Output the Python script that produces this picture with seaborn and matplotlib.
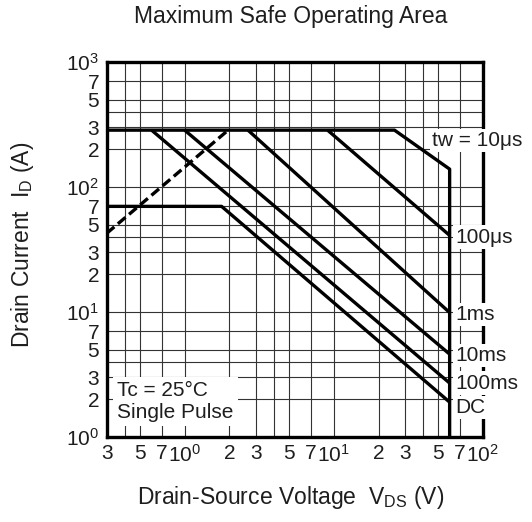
import matplotlib
matplotlib.use("Agg")
import matplotlib.pyplot as plt
import matplotlib.transforms as mtransforms
import seaborn as sns
import pandas as pd
from matplotlib.ticker import FixedLocator, FixedFormatter, NullFormatter

# ---------------- data ----------------
plateau = 285  # pulsed drain current limit line (A)

tw10_v = [0.3, 25.6, 60, 60]
tw10_i = [plateau, plateau, 139, 1]

us100_v = [9.1, 60]
us100_i = [plateau, 41]

ms1_v = [2.66, 60]
ms1_i = [plateau, 9.9]

ms10_v = [1.0, 60]
ms10_i = [plateau, 4.6]

ms100_v = [0.6, 60]
ms100_i = [plateau, 2.7]

dc_v = [0.3, 1.77, 60]
dc_i = [70, 70, 1.9]

rds_v = [0.3, 1.96]
rds_i = [42.6, plateau]

curve_labels = ["tw = 10μs", "100μs", "1ms", "10ms", "100ms", "DC"]
label_v = [45.4, 65.3, 65.3, 65.3, 65.3, 65.3]
label_i = [237, 39.8, 9.6, 4.5, 2.7, 1.71]

x_ticks = [0.3, 0.5, 0.7, 1, 2, 3, 5, 7, 10, 20, 30, 50, 70, 100]
x_ticklabels = ["3", "5", "7", "$10^0$", "2", "3", "5", "7",
                "$10^1$", "2", "3", "5", "7", "$10^2$"]
x_minor = [0.4, 4, 40]
y_ticks = [1, 2, 3, 5, 7, 10, 20, 30, 50, 70, 100, 200, 300, 500, 700, 1000]
y_ticklabels = ["$10^0$", "2", "3", "5", "7", "$10^1$", "2", "3", "5", "7",
                "$10^2$", "2", "3", "5", "7", "$10^3$"]
y_minor = [4, 40, 400]

# ---------------- style ----------------
sns.set_theme(style="white")
plt.rcParams["font.family"] = ["Liberation Sans", "DejaVu Sans"]
plt.rcParams["mathtext.fontset"] = "custom"
plt.rcParams["mathtext.rm"] = "Liberation Sans"
plt.rcParams["mathtext.it"] = "Liberation Sans:italic"
plt.rcParams["mathtext.default"] = "regular"

TXT = "#1e1e1e"
fig = plt.figure(figsize=(5.32, 5.22), dpi=100)
ax = fig.add_axes([106.7 / 532, 1 - 437 / 522, 376 / 532, 375 / 522])

LW = 2.4
series = [
    (tw10_v, tw10_i),
    (us100_v, us100_i),
    (ms1_v, ms1_i),
    (ms10_v, ms10_i),
    (ms100_v, ms100_i),
    (dc_v, dc_i),
]
for v, i in series:
    df = pd.DataFrame({"V": v, "I": i})
    sns.lineplot(data=df, x="V", y="I", sort=False, estimator=None, ax=ax,
                 color="black", lw=LW, zorder=6, solid_capstyle="butt")
df = pd.DataFrame({"V": rds_v, "I": rds_i})
sns.lineplot(data=df, x="V", y="I", sort=False, estimator=None, ax=ax,
             color="black", lw=LW, zorder=6, linestyle=(0, (3.0, 1.4)),
             dash_capstyle="butt")

ax.set_xscale("log")
ax.set_yscale("log")
ax.set_xlim(0.3, 100)
ax.set_ylim(1, 1000)

ax.xaxis.set_major_locator(FixedLocator(x_ticks))
ax.xaxis.set_major_formatter(FixedFormatter(x_ticklabels))
ax.xaxis.set_minor_locator(FixedLocator(x_minor))
ax.xaxis.set_minor_formatter(NullFormatter())
ax.yaxis.set_major_locator(FixedLocator(y_ticks))
ax.yaxis.set_major_formatter(FixedFormatter(y_ticklabels))
ax.yaxis.set_minor_locator(FixedLocator(y_minor))
ax.yaxis.set_minor_formatter(NullFormatter())

ax.set_axisbelow(True)
ax.grid(True, which="both", color="#333333", lw=0.8)
ax.tick_params(which="both", length=0, labelsize=15, labelcolor=TXT)
ax.tick_params(axis="x", pad=5)
ax.tick_params(axis="y", pad=5.5)

# shift the power-of-ten x labels so the "10" sits centred on its grid line
shift = mtransforms.ScaledTranslation(4.5 / 100, 0, fig.dpi_scale_trans)
for tick in ax.xaxis.get_major_ticks():
    lab = tick.label1
    if lab.get_text().startswith("$"):
        lab.set_transform(lab.get_transform() + shift)

for s in ax.spines.values():
    s.set_visible(True)
    s.set_color("black")
    s.set_linewidth(2.4)

ax.set_xlabel("Drain-Source Voltage  V$_\\mathrm{DS}$ (V)", fontsize=16.5,
              color=TXT, va="center")
ax.xaxis.set_label_coords((291 - 106.7) / 376, -(498 - 437) / 375)
ax.set_ylabel("Drain Current  I$_\\mathrm{D}$ (A)", fontsize=16.5,
              color=TXT, va="center")
ax.yaxis.set_label_coords((23 - 106.7) / 376, 1 - (245 - 62) / 375)

fig.text(291 / 532, 1 - 16 / 522, "Maximum Safe Operating Area",
         ha="center", va="center", fontsize=16.5, color=TXT)

for lab, v, i in zip(curve_labels, label_v, label_i):
    ax.text(v, i, lab, ha="left", va="center", fontsize=15, color=TXT,
            zorder=5, clip_on=False,
            bbox=dict(facecolor="white", edgecolor="none", pad=1.5))

ax.text((117 - 106.7) / 376, 1 - (401.5 - 62) / 375, "Tc = 25°C\nSingle Pulse",
        transform=ax.transAxes, ha="left", va="center", fontsize=15,
        color=TXT, linespacing=1.15, zorder=2,
        bbox=dict(facecolor="white", edgecolor="none", pad=3))

fig.savefig("out.png", dpi=100)
